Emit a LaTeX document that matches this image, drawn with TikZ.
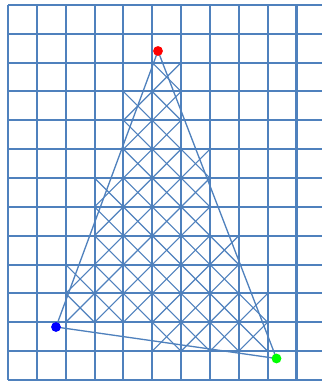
\documentclass[tikz,border=0pt]{standalone}
\definecolor{gridblue}{RGB}{79,129,189}
\begin{document}
\begin{tikzpicture}[x=1cm,y=1cm,
  gridline/.style={draw=gridblue, line width=2pt},
  hatch/.style={draw=gridblue, line width=1.1pt},
  edgeline/.style={draw=gridblue, line width=1.3pt},
  vdot/.style={circle, inner sep=0pt, minimum size=0.34cm, draw=none}]
\useasboundingbox (-0.277,-0.035) rectangle (10.884,13.171);
\clip (-0.277,-0.035) rectangle (10.884,13.171);
\fill[white] (-0.277,-0.035) rectangle (10.884,13.171);
% hatched cells
\foreach \r/\a/\b in {10/5/5, 9/4/5, 8/4/5, 7/4/6, 6/3/6, 5/3/6, 4/3/7, 3/2/7, 2/2/8, 1/5/8}
  \foreach \c in {\a,...,\b} {
    \draw[hatch] (\c,\r) -- ++(1,1);
    \draw[hatch] (\c+1,\r) -- ++(-1,1);
  }
% grid
\foreach \i in {0,...,10} \draw[gridline] (\i,0) -- (\i,13);
\foreach \j in {0,...,13} \draw[gridline] (0,\j) -- (11.5,\j);
% triangle
\coordinate (R) at (5.199,11.404);
\coordinate (B) at (1.664,1.837);
\coordinate (G) at (9.307,0.745);
\draw[edgeline] (R) -- (B) -- (G) -- cycle;
\node[vdot, fill=red] (Rdot) at (R) {};
\node[vdot, fill=blue] (Bdot) at (B) {};
\node[vdot, fill=green] (Gdot) at (G) {};
\end{tikzpicture}
\end{document}
